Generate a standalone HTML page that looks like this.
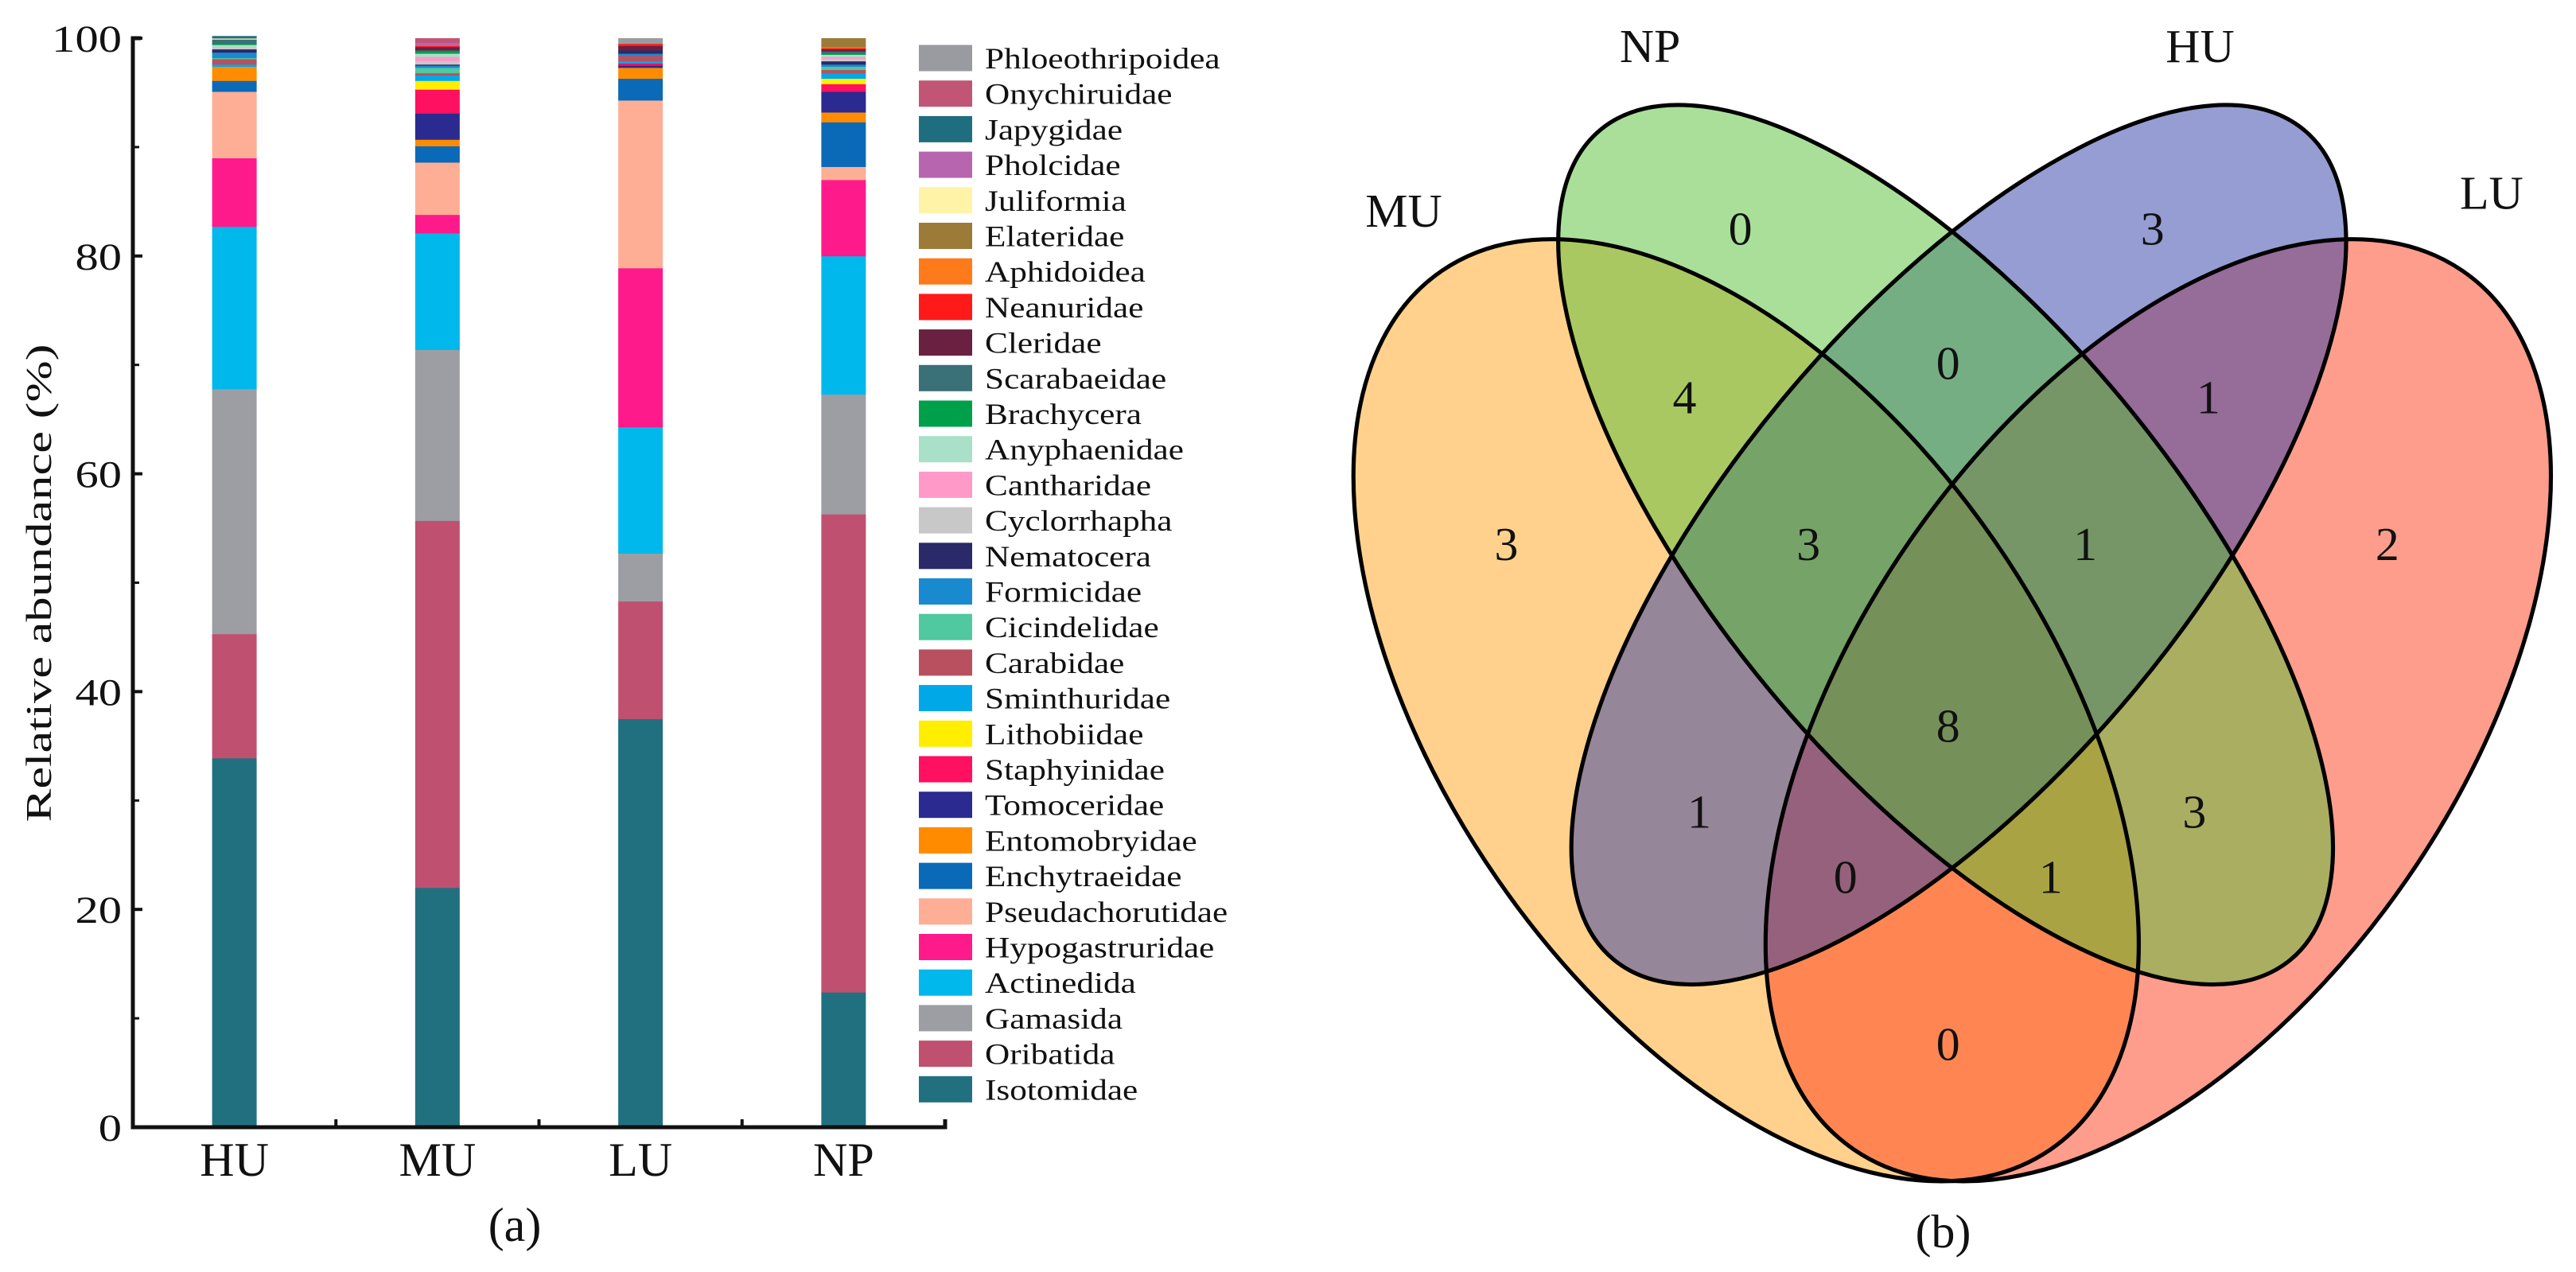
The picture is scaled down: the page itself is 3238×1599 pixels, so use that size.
<!DOCTYPE html>
<html><head><meta charset="utf-8"><style>
html,body{margin:0;padding:0;background:#fff;}
svg{display:block;font-family:"Liberation Serif",serif;}
</style></head><body>
<svg id="fig" width="3238" height="1599" viewBox="0 0 3238 1599" xmlns="http://www.w3.org/2000/svg">
<g id="chartA"></g>
<g id="venn" transform="translate(1620,0) scale(1.032,1.025)">
  <ellipse cx="557" cy="871" rx="654" ry="367" transform="rotate(55.5 557 871)" fill="#ffa31a" fill-opacity="0.5"/>
  <ellipse cx="1059" cy="871" rx="654" ry="367" transform="rotate(-55.5 1059 871)" fill="#ff3b1a" fill-opacity="0.5"/>
  <ellipse cx="816" cy="668" rx="660" ry="279" transform="rotate(-50.5 816 668)" fill="#2d3ca6" fill-opacity="0.5"/>
  <ellipse cx="800" cy="668" rx="660" ry="279" transform="rotate(50.5 800 668)" fill="#55c035" fill-opacity="0.5"/>
  <g fill="none" stroke="#000" stroke-width="5">
    <ellipse cx="557" cy="871" rx="654" ry="367" transform="rotate(55.5 557 871)"/>
    <ellipse cx="1059" cy="871" rx="654" ry="367" transform="rotate(-55.5 1059 871)"/>
    <ellipse cx="800" cy="668" rx="660" ry="279" transform="rotate(50.5 800 668)"/>
    <ellipse cx="816" cy="668" rx="660" ry="279" transform="rotate(-50.5 816 668)"/>
  </g>
  <g font-size="58" text-anchor="middle" fill="#111">
    <text x="140" y="278">MU</text>
    <text x="440" y="76">NP</text>
    <text x="1110" y="76">HU</text>
    <text x="1465" y="256">LU</text>
    <text x="550" y="300">0</text>
    <text x="1052" y="300">3</text>
    <text x="482" y="507">4</text>
    <text x="803" y="465">0</text>
    <text x="1120" y="507">1</text>
    <text x="265" y="687">3</text>
    <text x="633" y="687">3</text>
    <text x="970" y="687">1</text>
    <text x="1338" y="687">2</text>
    <text x="803" y="910">8</text>
    <text x="500" y="1015">1</text>
    <text x="1103" y="1015">3</text>
    <text x="678" y="1095">0</text>
    <text x="928" y="1095">1</text>
    <text x="803" y="1300">0</text>
    <text x="797" y="1530">(b)</text>
  </g>
</g>
</svg>
<script>
const categories = ["HU","MU","LU","NP"];
const taxa = ["Isotomidae","Oribatida","Gamasida","Actinedida","Hypogastruridae","Pseudachorutidae","Enchytraeidae","Entomobryidae","Tomoceridae","Staphyinidae","Lithobiidae","Sminthuridae","Carabidae","Cicindelidae","Formicidae","Nematocera","Cyclorrhapha","Cantharidae","Anyphaenidae","Brachycera","Scarabaeidae","Cleridae","Neanuridae","Aphidoidea","Elateridae","Juliformia","Pholcidae","Japygidae","Onychiruidae","Phloeothripoidea"];
const colors = ["#217080","#c05070","#9d9ea3","#00b8ec","#ff1a8c","#ffae96","#0a6ab8","#ff8c00","#2a2a90","#ff1060","#ffee00","#00a8e8","#b85060","#50c8a0","#1a8ad0","#2a2a6a","#c8c8c8","#ff99c8","#a8e0c8","#00a04a","#3a7077","#6a2040","#ff1a1a","#ff7a1a","#9c7b38","#fff3a8","#b865b0","#1f6e80","#c05575","#9a9ba0"];
const valuesHU = [33.9,11.4,22.5,14.9,6.3,6.1,1.0,1.3,0,0,0,0.2,0.5,0.1,0.5,0.3,0.2,0,0.2,0.1,0.4,0,0,0,0,0.1,0,0.2,0,0];
const valuesMU = [22.0,33.7,15.7,10.7,1.7,4.8,1.5,0.6,2.4,2.2,0.8,0.5,0.2,0.5,0.2,0.1,0.3,0.4,0.3,0.2,0.1,0.3,0.1,0,0,0,0.3,0,0.4,0];
const valuesLU = [37.5,10.8,4.4,11.6,14.6,15.4,2.0,1.0,0.2,0.2,0,0.2,0.5,0,0.2,0.3,0,0,0,0,0,0.4,0.2,0,0,0,0,0,0,0.5];
const valuesNP = [12.4,43.9,11.0,12.7,7.0,1.2,4.1,0.9,1.9,0.7,0.5,0.5,0.3,0.3,0.2,0.3,0.2,0.2,0.2,0.1,0.2,0.2,0.1,0.1,0.8,0,0,0,0,0];
const series = [valuesHU, valuesMU, valuesLU, valuesNP];
const yTicks = [0,20,40,60,80,100];
const yMinor = [10,30,50,70,90];

const NS = "http://www.w3.org/2000/svg";
const g = document.getElementById("chartA");
const X0 = 167, X1 = 1188, Y0 = 1417, Y100 = 48, BW = 56;
function yScale(v){ return Y0 - (Y0 - Y100) * v / 100; }
function xCenter(i){ return X0 + (X1 - X0) / categories.length * (i + 0.5); }
function el(tag, attrs, parent){ const e = document.createElementNS(NS, tag); for (const k in attrs) e.setAttribute(k, attrs[k]); (parent||g).appendChild(e); return e; }

categories.forEach((c, i) => {
  const bg = el("g", {});
  
  
  let acc = 0;
  series[i].forEach((v, k) => {
    if (v <= 0) return;
    const yTop = yScale(acc + v), yBot = yScale(acc);
    const r = el("rect", {x: xCenter(i) - BW/2, y: yTop, width: BW, height: yBot - yTop + 0.4, fill: colors[k]}, bg);
    
    
    acc += v;
  });
  const t = el("text", {x: xCenter(i), y: 1478, "font-size": 60, "text-anchor": "middle", fill: "#111"});
  
  
  t.textContent = c;
});

const ax = el("path", {d: `M${X0+10},${Y100} H${X0} V${Y0} H${X1} V${Y0-10}`, fill: "none", stroke: "#111", "stroke-width": 5});


for (let i = 1; i < categories.length; i++) {
  const x = X0 + (X1 - X0) / categories.length * i;
  const tk = el("line", {x1: x, x2: x, y1: Y0, y2: Y0 - 10, stroke: "#111", "stroke-width": 4});
  
  
}
yTicks.forEach(v => {
  const y = yScale(v);
  const tk = el("line", {x1: X0, x2: X0 + 12, y1: y, y2: y, stroke: "#111", "stroke-width": 4});
  
  
  const t = el("text", {"font-size": 48, "text-anchor": "end", fill: "#111", transform: `translate(153,${y + 17}) scale(1.22,1)`});
  
  
  t.textContent = v;
});
yMinor.forEach(v => {
  const y = yScale(v);
  const tk = el("line", {x1: X0, x2: X0 + 8, y1: y, y2: y, stroke: "#111", "stroke-width": 3});
  
  
});
const yt = el("text", {"font-size": 46, "text-anchor": "middle", fill: "#111", transform: "translate(64,733) rotate(-90) scale(1.36,1)"});


yt.textContent = "Relative abundance (%)";
const pa = el("text", {x: 647, y: 1560, "font-size": 60, "text-anchor": "middle", fill: "#111"});


pa.textContent = "(a)";

const lg = el("g", {});


for (let j = 0; j < taxa.length; j++) {
  const k = taxa.length - 1 - j;
  const cy = 73 + j * 44.7;
  const e = el("g", {}, lg);
  
  
  el("rect", {x: 1155, y: cy - 16.5, width: 67, height: 33, fill: colors[k]}, e);
  const t = el("text", {"font-size": 37, fill: "#111", transform: `translate(1238,${cy + 13}) scale(1.17,1)`}, e);
  t.textContent = taxa[k];
}
</script>
</body></html>
